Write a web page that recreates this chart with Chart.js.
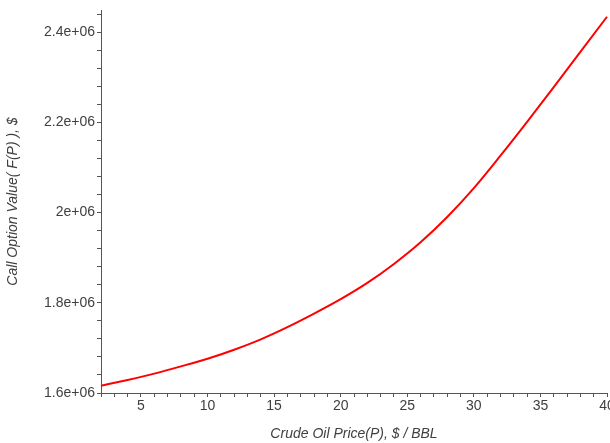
<!DOCTYPE html>
<html>
<head>
<meta charset="utf-8">
<script src="https://cdn.jsdelivr.net/npm/chart.js@4"></script>
<style>
  html, body { margin: 0; padding: 0; background: #ffffff; }
  #wrap { width: 610px; height: 443px; }
</style>
</head>
<body>
<div id="wrap"><canvas id="c" width="610" height="443"></canvas></div>
<script>
// Crude oil price ($/BBL)
const prices = [2, 4, 6, 8, 10, 12, 14, 16, 18, 20, 22, 24, 26, 28, 30, 32, 34, 36, 38, 40];
// Call option value F(P), $
const optionValues = [1616000, 1629000, 1643000, 1659000, 1676000, 1696000, 1719000, 1746000, 1776000, 1808000,
                      1844000, 1886000, 1934000, 1990000, 2054000, 2126000, 2201000, 2278000, 2356000, 2434000];
// Major tick labels
const xTickValues = [5, 10, 15, 20, 25, 30, 35, 40];
const xTickLabels = ['5', '10', '15', '20', '25', '30', '35', '40'];
const yTickValues = [1600000, 1800000, 2000000, 2200000, 2400000];
const yTickLabels = ['1.6e+06', '1.8e+06', '2e+06', '2.2e+06', '2.4e+06'];
// Minor tick spacing
const xMinorStep = 1;
const yMinorStep = 40000;

const points = prices.map((p, i) => ({ x: p, y: optionValues[i] }));
const axisColor = '#555555';
const textColor = '#404040';
const tickFont = { family: 'Liberation Sans, Arial, sans-serif', size: 14 };
const titleFont = { family: 'Liberation Sans, Arial, sans-serif', size: 14, style: 'italic' };

function buildTicks(scale, step, majors, labels) {
  const ticks = [];
  const start = Math.ceil(scale.min / step - 1e-9) * step;
  for (let k = 0; start + k * step <= scale.max + 1e-9; k++) {
    const v = start + k * step;
    let label = '';
    for (let i = 0; i < majors.length; i++) {
      if (Math.abs(v - majors[i]) < step / 100) label = labels[i];
    }
    ticks.push({ value: v, label: label, major: label !== '' });
  }
  scale.ticks = ticks;
}

new Chart(document.getElementById('c'), {
  type: 'line',
  data: {
    datasets: [{
      data: points,
      borderColor: '#ff0000',
      borderWidth: 2,
      pointRadius: 0,
      fill: false,
      clip: false,
      cubicInterpolationMode: 'monotone'
    }]
  },
  options: {
    responsive: false,
    animation: false,
    layout: { padding: { top: 10, right: 3, left: 0, bottom: 0 } },
    plugins: { legend: { display: false }, tooltip: { enabled: false } },
    scales: {
      x: {
        type: 'linear',
        min: 2,
        max: 40,
        afterBuildTicks: (s) => buildTicks(s, xMinorStep, xTickValues, xTickLabels),
        afterFit: (s) => { s.height = 50; s.paddingRight = 0; s.paddingLeft = 0; },
        border: { display: true, color: axisColor, width: 1 },
        grid: { display: true, drawOnChartArea: false, drawTicks: true, tickLength: 4, color: axisColor },
        ticks: {
          autoSkip: false,
          maxRotation: 0,
          padding: 1,
          color: textColor,
          font: tickFont,
          callback: function (v, i, ticks) { return ticks[i].label; }
        },
        title: {
          display: true,
          text: 'Crude Oil Price(P), $ / BBL',
          color: textColor,
          font: titleFont,
          padding: { top: 15, bottom: 0 }
        }
      },
      y: {
        type: 'linear',
        min: 1600000,
        max: 2449000,
        afterBuildTicks: (s) => buildTicks(s, yMinorStep, yTickValues, yTickLabels),
        afterFit: (s) => { s.width = 101; s.paddingTop = 0; s.paddingBottom = 0; },
        border: { display: true, color: axisColor, width: 1 },
        grid: { display: true, drawOnChartArea: false, drawTicks: true, tickLength: 4, color: axisColor },
        ticks: {
          autoSkip: false,
          padding: 2,
          color: textColor,
          font: tickFont,
          callback: function (v, i, ticks) { return ticks[i].label; }
        },
        title: {
          display: true,
          text: 'Call Option Value( F(P) ), $',
          color: textColor,
          font: titleFont,
          padding: { top: 5, bottom: 0 },
          align: 'center'
        }
      }
    }
  }
});
</script>
</body>
</html>
